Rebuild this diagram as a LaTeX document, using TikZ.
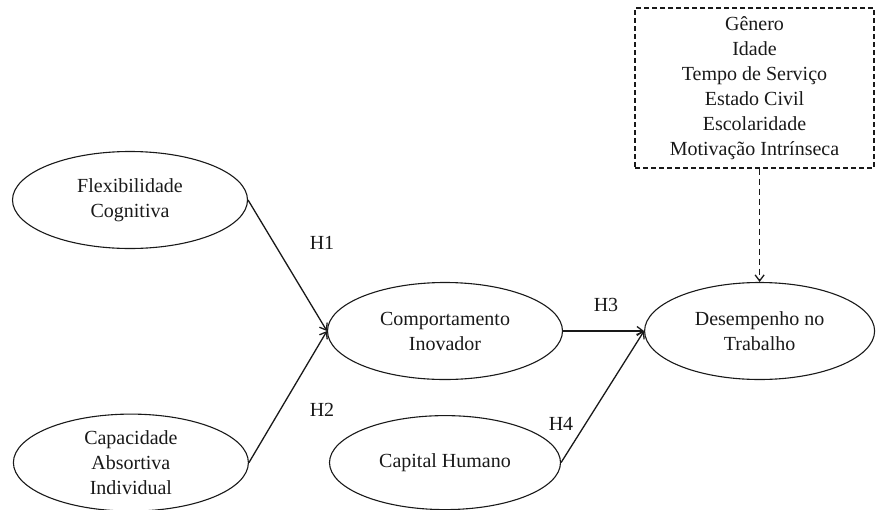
\documentclass[tikz,border=0pt]{standalone}
\usepackage{fontspec}
\setmainfont{Liberation Serif}
\usetikzlibrary{positioning,shapes.geometric,arrows.meta}

\tikzset{
	var/.style={ellipse, draw, line width=1.1pt, minimum width=235pt, minimum height=97pt,
		inner sep=0pt, align=center, font=\fontsize{20}{25}\selectfont},
	ctrl/.style={draw, dash pattern=on 5pt off 3pt, line width=1.1pt, align=center, inner sep=0pt,
		minimum width=239pt, minimum height=160pt, font=\fontsize{20}{25}\selectfont},
	hyp/.style={font=\fontsize{20}{25}\selectfont},
	>={Straight Barb[length=6pt,width=9pt]}
}

\begin{document}
\begin{tikzpicture}[x=1pt,y=-1pt,color={black!90}]
	\useasboundingbox (0,0) rectangle (876,509);
	\node [var] (CI) at (445,331) {Comportamento\\Inovador};
	\node [var, right=81pt of CI, minimum width=230pt] (DT) {Desempenho no\\Trabalho};
	\node [var, below=35pt of CI, minimum width=231pt, minimum height=94pt] (CH) {Capital Humano};
	\node [var, left=80pt of CH, minimum height=97pt] (CA) {Capacidade\\Absortiva\\Individual};
	\node [var] (FC) at (130,200) {Flexibilidade\\Cognitiva};
	\node [ctrl] (CV) at (754.5,88) {G\^enero\\Idade\\Tempo de Servi\c{c}o\\Estado Civil\\Escolaridade\\Motiva\c{c}\~ao Intr\'inseca};
	\node [hyp] (H1) at (322,243) {H1};
	\node [hyp] (H2) at (322,410) {H2};
	\node [hyp] (H3) at (606,305) {H3};
	\node [hyp] (H4) at (561,424) {H4};
	\draw [->, line width=1.3pt] (FC.east) to (CI.west);
	\draw [->, line width=1.3pt] (CA.east) to (CI.west);
	\draw [->, line width=1.3pt] (CI.east) to (DT.west);
	\draw [->, line width=1.3pt] (CH.east) to (DT.west);
	\draw [->, dash pattern=on 6pt off 4pt, line width=1.3pt] (CV.south -| DT.north) to (DT.north);
\end{tikzpicture}
\end{document}
